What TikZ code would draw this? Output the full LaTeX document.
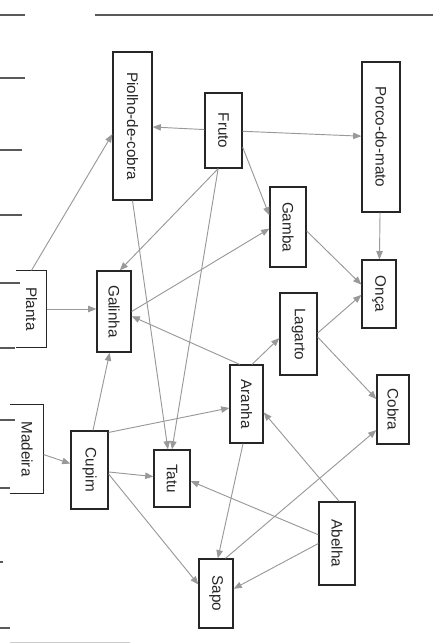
\documentclass[tikz,border=0pt]{standalone}
\usepackage{fontspec}
\setsansfont{Liberation Sans}
\usepackage{tikz}
\usetikzlibrary{arrows.meta}

\tikzset{
  bicho/.style={draw=black!85, line width=1.1pt, inner sep=0pt, text=black!85,
    font=\sffamily\fontsize{13}{15}\selectfont},
  corte/.style={bicho, draw=none},
  seta/.style={draw=black!40, line width=0.8pt, -{Triangle[length=7pt,width=5.5pt]}},
  regua/.style={draw=black!65, line width=0.9pt}
}

\begin{document}
\begin{tikzpicture}[x=0.03cm, y=-0.03cm]
  \useasboundingbox (0,0) rectangle (433,644);
  % folha e linhas do caderno
  \draw[regua] (95,15) -- (433,15);
  \foreach \y/\l in {15/25, 78/25, 150/22, 215/22, 283/20, 348/15, 420/15, 488/10, 562/3, 628/10}
    \draw[regua] (0,\y) -- (\l,\y);
  \draw[black!20, line width=0.8pt] (10,642) -- (130,642);

  % especies
  \node[bicho, minimum width=1.17cm, minimum height=4.44cm] (piolho) at (132.5,126) {\rotatebox{-90}{Piolho-de-cobra}};
  \node[bicho, minimum width=1.11cm, minimum height=2.25cm] (fruto) at (223.5,130.5) {\rotatebox{-90}{Fruto}};
  \node[bicho, minimum width=1.14cm, minimum height=4.5cm] (porco) at (381,137) {\rotatebox{-90}{Porco-do-mato}};
  \node[bicho, minimum width=1.08cm, minimum height=2.4cm] (gamba) at (288,227) {\rotatebox{-90}{Gamba}};
  \node[corte, minimum width=0.87cm, minimum height=2.28cm] (planta) at (31.5,309) {\rotatebox{-90}{Planta}};
  \node[bicho, minimum width=1.02cm, minimum height=2.43cm] (galinha) at (114,311.5) {\rotatebox{-90}{Galinha}};
  \node[bicho, minimum width=1.02cm, minimum height=2.04cm] (onca) at (379,294) {\rotatebox{-90}{Onça}};
  \node[bicho, minimum width=1.11cm, minimum height=2.46cm] (lagarto) at (298.5,334) {\rotatebox{-90}{Lagarto}};
  \node[bicho, minimum width=0.99cm, minimum height=2.34cm] (aranha) at (246.5,404) {\rotatebox{-90}{Aranha}};
  \node[bicho, minimum width=0.96cm, minimum height=2.07cm] (cobra) at (393,409.5) {\rotatebox{-90}{Cobra}};
  \node[corte, minimum width=0.96cm, minimum height=2.64cm] (madeira) at (27,449) {\rotatebox{-90}{Madeira}};
  \node[bicho, minimum width=1.11cm, minimum height=2.34cm] (cupim) at (89.5,470) {\rotatebox{-90}{Cupim}};
  \node[bicho, minimum width=1.08cm, minimum height=1.71cm] (tatu) at (172,478.5) {\rotatebox{-90}{Tatu}};
  \node[bicho, minimum width=1.08cm, minimum height=2.49cm] (abelha) at (337,543.5) {\rotatebox{-90}{Abelha}};
  \node[bicho, minimum width=1.02cm, minimum height=2.07cm] (sapo) at (216,593.5) {\rotatebox{-90}{Sapo}};

  % caixas cortadas na margem
  \draw[black!85, line width=1.1pt] (planta.north west) -| (planta.south east) -- (planta.south west);
  \draw[black!85, line width=1.1pt] (madeira.north west) -| (madeira.south east) -- (madeira.south west);

  % quem come quem
  \draw[seta] (fruto) -- (piolho);
  \draw[seta] (fruto) -- (porco);
  \draw[seta] (fruto.-41) -- (gamba.148);
  \draw[seta] (fruto.-98) -- (galinha.82);
  \draw[seta] (fruto.-98) -- (tatu.90);
  \draw[seta] (piolho.-90) -- (tatu.98);
  \draw[seta] (planta.north) -- (piolho.-158);
  \draw[seta] (planta.east) -- (planta.east -| galinha.west);
  \draw[seta] (galinha.east) -- (gamba.-175);
  \draw[seta] (aranha.100) -- (galinha.-15);
  \draw[seta] (gamba.-12) -- (onca.152);
  \draw[seta] (porco) -- (onca);
  \draw[seta] (lagarto.3) -- (onca.183);
  \draw[seta] (lagarto.-9) -- (cobra.148);
  \draw[seta] (aranha.82) -- (lagarto.-168);
  \draw[seta] (cupim.85) -- (galinha.-96);
  \draw[seta] (cupim.63) -- (aranha.-167);
  \draw[seta] (cupim) -- (tatu);
  \draw[seta] (cupim.-12) -- (sapo.153);
  \draw[seta] (madeira) -- (cupim);
  \draw[seta] (aranha.-95) -- (sapo.87);
  \draw[seta] (sapo.75) -- (cobra.-129);
  \draw[seta] (abelha.87) -- (aranha.-26);
  \draw[seta] (abelha.155) -- (tatu.-8);
  \draw[seta] (abelha.180) -- (sapo.15);
\end{tikzpicture}
\end{document}
